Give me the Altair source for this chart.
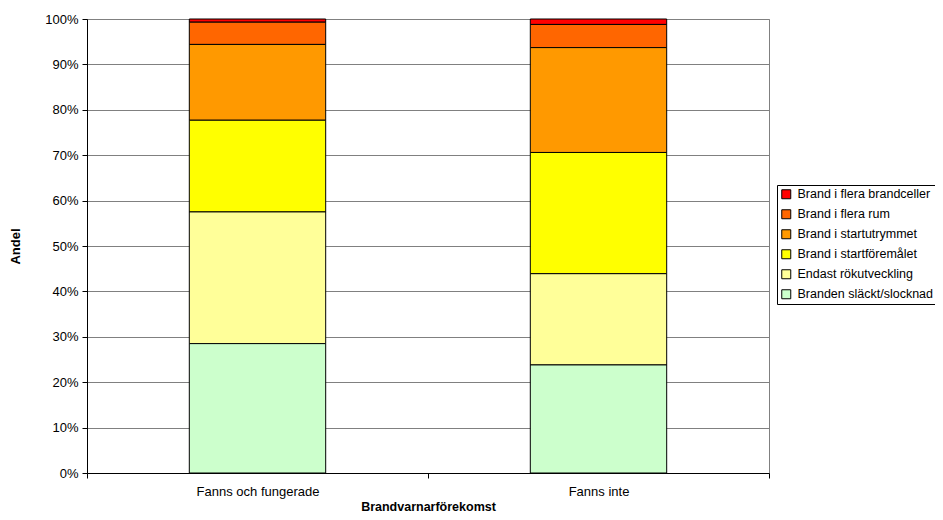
import altair as alt
import pandas as pd

categories = ["Fanns och fungerade", "Fanns inte"]
series = [
    "Brand i flera brandceller",
    "Brand i flera rum",
    "Brand i startutrymmet",
    "Brand i startföremålet",
    "Endast rökutveckling",
    "Branden släckt/slocknad",
]
colors = ["#FF0000", "#FF6600", "#FF9900", "#FFFF00", "#FFFF99", "#CCFFCC"]
# percent values per series, [Fanns och fungerade, Fanns inte]
values = {
    "Brand i flera brandceller": [0.7, 1.2],
    "Brand i flera rum": [4.9, 5.1],
    "Brand i startutrymmet": [16.7, 23.1],
    "Brand i startföremålet": [20.2, 26.7],
    "Endast rökutveckling": [29.0, 20.1],
    "Branden släckt/slocknad": [28.5, 23.8],
}

rows = []
for s in series:
    for c, v in zip(categories, values[s]):
        rows.append({"cat": c, "series": s, "value": v / 100.0,
                     "ord": len(series) - series.index(s)})
df = pd.DataFrame(rows)

font = "Liberation Sans"
fs = 13

chart = alt.Chart(df).mark_bar(stroke="black", strokeWidth=1, width={"band": 0.4}).encode(
    x=alt.X("cat:N", sort=categories,
            scale=alt.Scale(paddingInner=0, paddingOuter=0),
            axis=alt.Axis(title="Brandvarnarförekomst", labelAngle=0,
                          tickBand="extent", tickSize=5, tickColor="black",
                          domainColor="black", labelPadding=7, grid=False,
                          titlePadding=2, labelFontSize=fs, titleFontSize=12.5,
                          labelFont=font, titleFont=font, titleFontWeight="bold",
                          labelColor="black", titleColor="black")),
    y=alt.Y("value:Q", stack="zero",
            scale=alt.Scale(domain=[0, 1], nice=False),
            axis=alt.Axis(title="Andel", format=".0%", values=[i / 10 for i in range(11)],
                          tickSize=5, tickColor="black", domainColor="black",
                          grid=True, gridColor="#808080", gridWidth=1,
                          labelPadding=4, titlePadding=22,
                          labelFontSize=fs, titleFontSize=fs,
                          labelFont=font, titleFont=font, titleFontWeight="bold",
                          labelColor="black", titleColor="black")),
    color=alt.Color("series:N", sort=series,
                    scale=alt.Scale(domain=series, range=colors),
                    legend=alt.Legend(title=None, orient="none", legendX=690, legendY=166,
                                      symbolType="square", symbolSize=81,
                                      symbolStrokeColor="black", symbolStrokeWidth=1,
                                      labelFont=font, labelFontSize=12.5, labelColor="black",
                                      labelOffset=5,
                                      strokeColor="black", padding=3, rowPadding=6,
                                      fillColor="white", labelLimit=250)),
    order=alt.Order("ord:Q", sort="ascending"),
).properties(
    width=682, height=454,
    autosize=alt.AutoSizeParams(type="none"),
    padding={"left": 79, "top": 11, "right": 166, "bottom": 45},
).configure_view(stroke="#808080", strokeWidth=1)

chart.save("out.html", embed_options={"renderer": "svg", "actions": False})
